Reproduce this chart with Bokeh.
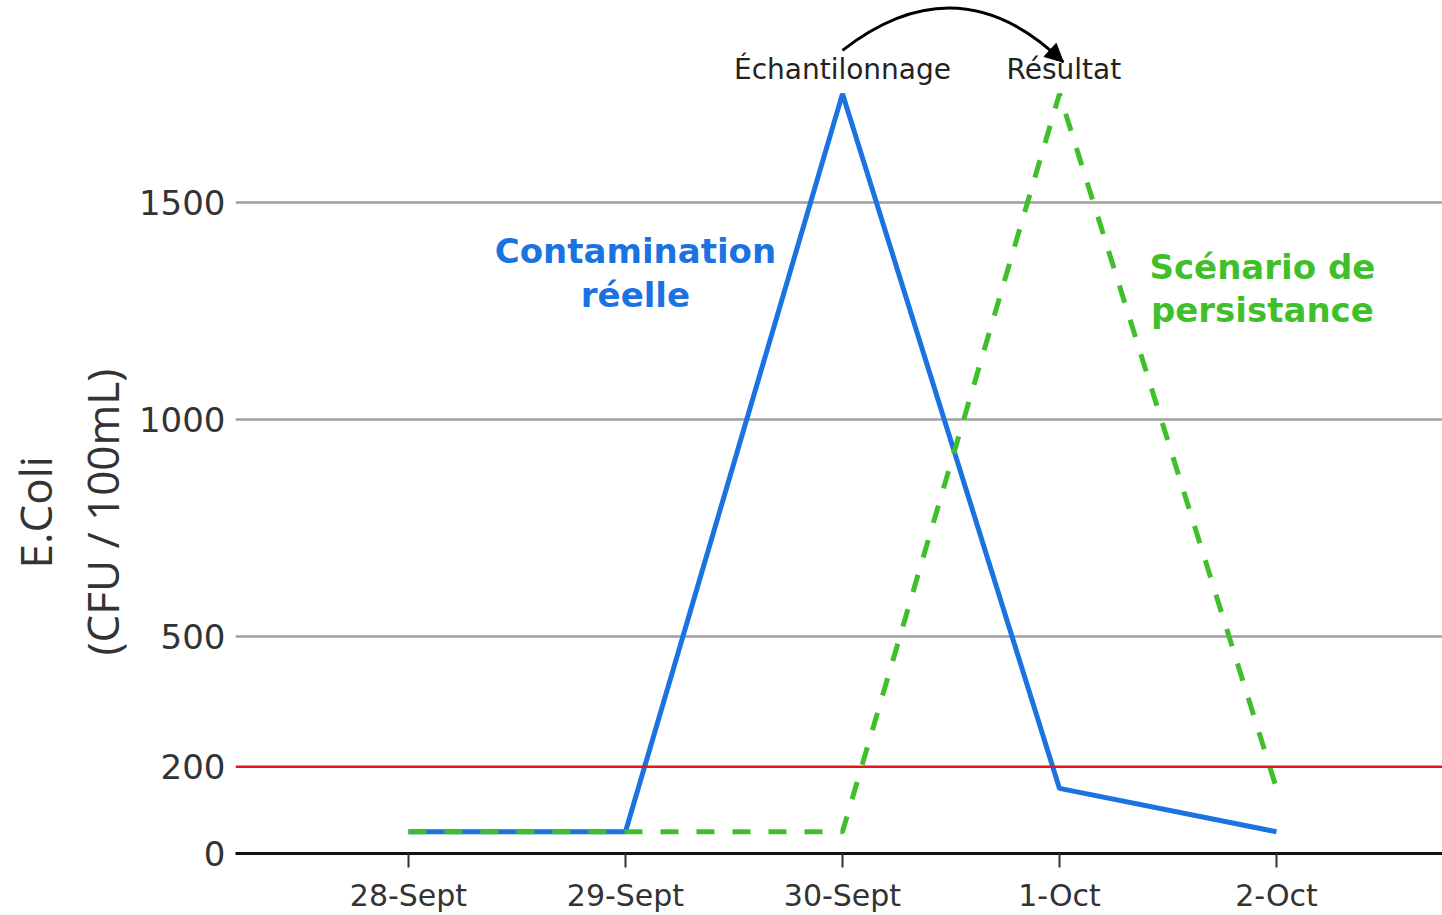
from bokeh.plotting import figure
from bokeh.models import FixedTicker, Span, Label, Arrow, NormalHead, Range1d, Title
from bokeh.embed import file_html
from bokeh.resources import INLINE

# ---- data ----
dates = ["28-Sept", "29-Sept", "30-Sept", "1-Oct", "2-Oct"]
contamination_reelle = [50, 50, 1750, 150, 50]
scenario_persistance = [50, 50, 50, 1750, 150]
y_ticks = [0, 200, 500, 1000, 1500]
grid_values = [500, 1000, 1500]
seuil = 200
y_title = ["(CFU / 100mL)", "E.Coli"]

x = list(range(len(dates)))

W, H = 1442, 915
p = figure(width=W, height=H, output_backend="svg", toolbar_location=None,
           x_range=Range1d(-0.797, 4.765), y_range=Range1d(0, 1965),
           min_border_left=235, min_border_right=0, min_border_top=0,
           min_border_bottom=62)
p.outline_line_color = None
p.background_fill_color = "white"
p.border_fill_color = "white"

# grid
p.xgrid.grid_line_color = None
p.ygrid.ticker = FixedTicker(ticks=grid_values)
p.ygrid.grid_line_color = "#a0a0a0"
p.ygrid.grid_line_width = 2.5

# y axis
p.yaxis.ticker = FixedTicker(ticks=y_ticks)
p.yaxis.axis_line_color = None
p.yaxis.major_tick_line_color = None
p.yaxis.minor_tick_line_color = None
p.yaxis.major_label_standoff = 4
p.yaxis.major_label_text_font = "DejaVu Sans"
p.yaxis.major_label_text_font_size = "34px"
p.yaxis.major_label_text_color = "#333333"

# y axis title: two rotated lines placed left of the axis
for txt, off, so in zip(y_title, [198, 285], [8, 2]):
    p.add_layout(Title(text=txt, align="left", offset=off, standoff=so,
                       text_font="Open Sans", text_font_style="normal",
                       text_font_size="44px", text_color="#333333"), "left")

# x axis
p.xaxis.ticker = FixedTicker(ticks=x)
p.xaxis.major_label_overrides = {i: d for i, d in zip(x, dates)}
p.xaxis.axis_line_color = "#111111"
p.xaxis.axis_line_width = 3
p.xaxis.major_tick_line_color = "#333333"
p.xaxis.major_tick_line_width = 2
p.xaxis.major_tick_in = 0
p.xaxis.major_tick_out = 14
p.xaxis.minor_tick_line_color = None
p.xaxis.major_label_standoff = 10
p.xaxis.major_label_text_font = "DejaVu Sans"
p.xaxis.major_label_text_font_size = "30px"
p.xaxis.major_label_text_color = "#333333"

# threshold
p.add_layout(Span(location=seuil, dimension="width", line_color="#e8141c", line_width=2.5))

# series
blue = "#1a73e0"
green = "#3fbf2a"
p.line(x, contamination_reelle, line_color=blue, line_width=5)
p.line(x, scenario_persistance, line_color=green, line_width=5, line_dash="18 18")

# annotations
i_blue = contamination_reelle.index(max(contamination_reelle))
i_green = scenario_persistance.index(max(scenario_persistance))
top_y = 1806
p.add_layout(Label(x=i_blue, y=top_y, text="Échantilonnage", text_align="center",
                   text_baseline="middle", text_font="DejaVu Sans",
                   text_font_size="28px", text_color="#222222"))
p.add_layout(Label(x=i_green + 0.02, y=top_y, text="Résultat", text_align="center",
                   text_baseline="middle", text_font="DejaVu Sans",
                   text_font_size="28px", text_color="#222222"))

# curved arrow
p.quadratic(x0=[i_blue], y0=[1850], x1=[i_green + 0.018], y1=[1823],
            cx=[2.535], cy=[2058], line_color="black", line_width=3)
p.add_layout(Arrow(x_start=i_green - 0.03, y_start=1845, x_end=i_green + 0.018, y_end=1823,
                   line_color="black", line_width=3,
                   end=NormalHead(size=18, fill_color="black", line_color="black")))

for txt, yy in [("Contamination", 1387), ("réelle", 1286)]:
    p.add_layout(Label(x=1.046, y=yy, text=txt, text_align="center", text_baseline="middle",
                       text_font="DejaVu Sans", text_font_style="bold",
                       text_font_size="34px", text_color=blue))
for txt, yy in [("Scénario de", 1352), ("persistance", 1251)]:
    p.add_layout(Label(x=3.935, y=yy, text=txt, text_align="center", text_baseline="middle",
                       text_font="DejaVu Sans", text_font_style="bold",
                       text_font_size="34px", text_color=green))

open("out.html", "w").write(file_html(p, INLINE))
